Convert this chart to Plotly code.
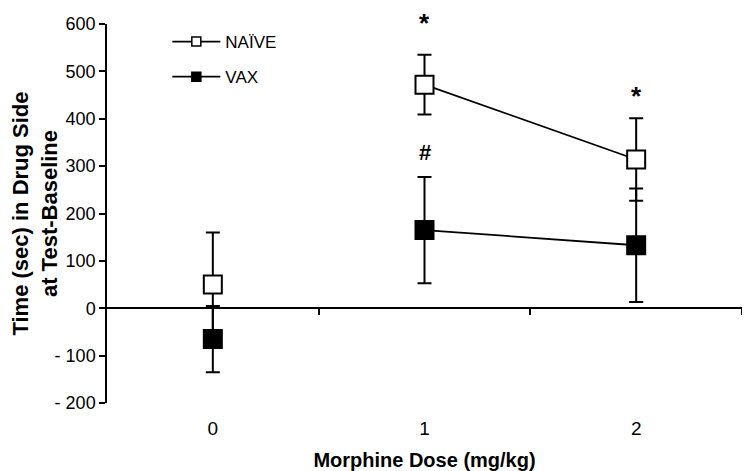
import plotly.graph_objects as go

# ---- data ----
doses = [0, 1, 2]
dose_labels = ["0", "1", "2"]
naive_mean = [50, 472, 314]
naive_err = [110, 63, 87]
vax_mean = [-65, 165, 133]
vax_err = [70, 112, 120]
y_tick_vals = [-200, -100, 0, 100, 200, 300, 400, 500, 600]
y_tick_text = ["- 200", "- 100", "0", "100", "200", "300", "400", "500", "600"]
series_names = ["NAÏVE", "VAX"]

FONT = "Liberation Sans, Arial, sans-serif"
BLACK = "black"

fig = go.Figure()

def add_series(name, mean, err, fill):
    marker = dict(symbol="square", size=18, color=fill, line=dict(color=BLACK, width=2))
    # dose 0 (not connected)
    fig.add_trace(go.Scatter(x=doses[:1], y=mean[:1], mode="markers", marker=marker,
                             error_y=dict(type="data", array=err[:1], visible=True, color=BLACK,
                                          thickness=2, width=7),
                             showlegend=False, xaxis="x2", yaxis="y", cliponaxis=False))
    # doses 1-2 (connected)
    fig.add_trace(go.Scatter(x=doses[1:], y=mean[1:], mode="lines+markers", marker=marker,
                             line=dict(color=BLACK, width=1.8),
                             error_y=dict(type="data", array=err[1:], visible=True, color=BLACK,
                                          thickness=2, width=7),
                             showlegend=False, cliponaxis=False))
    # legend entry
    fig.add_trace(go.Scatter(x=[None], y=[None], mode="lines+markers", name=name,
                             legendgroup=name,
                             marker=dict(symbol="square", size=9, color=fill,
                                         line=dict(color=BLACK, width=1.5)),
                             line=dict(color=BLACK, width=1.8)))

add_series(series_names[0], naive_mean, naive_err, "white")
add_series(series_names[1], vax_mean, vax_err, BLACK)

# significance markers
fig.add_annotation(x=doses[1], y=naive_mean[1] + naive_err[1], text="<b>*</b>", showarrow=False,
                   yanchor="middle", yshift=32, font=dict(family=FONT, size=26, color=BLACK))
fig.add_annotation(x=doses[2], y=naive_mean[2] + naive_err[2], text="<b>*</b>", showarrow=False,
                   yanchor="middle", yshift=22, font=dict(family=FONT, size=26, color=BLACK))
fig.add_annotation(x=doses[1], y=vax_mean[1] + vax_err[1], text="<b>#</b>", showarrow=False,
                   yanchor="middle", yshift=25, font=dict(family=FONT, size=22, color=BLACK))

fig.update_layout(
    width=750, height=471,
    margin=dict(l=99, r=16, t=16, b=76),
    paper_bgcolor="white", plot_bgcolor="white",
    font=dict(family=FONT, color=BLACK, size=18),
    showlegend=True,
    legend=dict(x=0.095, y=1.0, xanchor="left", yanchor="top", bgcolor="rgba(0,0,0,0)",
                font=dict(family=FONT, size=17, color=BLACK), itemwidth=48,
                tracegroupgap=10),
    xaxis=dict(range=[-0.5, 2.5], tickmode="array", tickvals=doses, ticktext=dose_labels,
               showline=False, showgrid=False, zeroline=False, ticks="", automargin=False,
               ticklabelstandoff=12,
               tickfont=dict(family=FONT, size=19, color=BLACK),
               title=dict(text="<b>Morphine Dose (mg/kg)</b>", standoff=14,
                          font=dict(family=FONT, size=20, color=BLACK))),
    xaxis2=dict(range=[-0.5, 2.5], overlaying="x", anchor="free", position=0.25,
                side="bottom", tickmode="array", tickvals=[0.5, 1.5, 2.5], automargin=False,
                showticklabels=False, ticks="outside", ticklen=6, tickwidth=1.5,
                tickcolor=BLACK, showline=True, linecolor=BLACK, linewidth=1.5,
                showgrid=False, zeroline=False),
    yaxis=dict(range=[-200, 600], tickmode="array", tickvals=y_tick_vals, ticktext=y_tick_text,
               showline=True, linecolor=BLACK, linewidth=1.5, ticks="outside", ticklen=6,
               tickwidth=1.5, tickcolor=BLACK, showgrid=False, zeroline=False, automargin=False,
               tickfont=dict(family=FONT, size=18, color=BLACK),
               title=dict(text="<b>Time (sec) in Drug Side<br>at Test-Baseline</b>", standoff=5,
                          font=dict(family=FONT, size=22, color=BLACK))),
)

fig.write_html("out.html")
